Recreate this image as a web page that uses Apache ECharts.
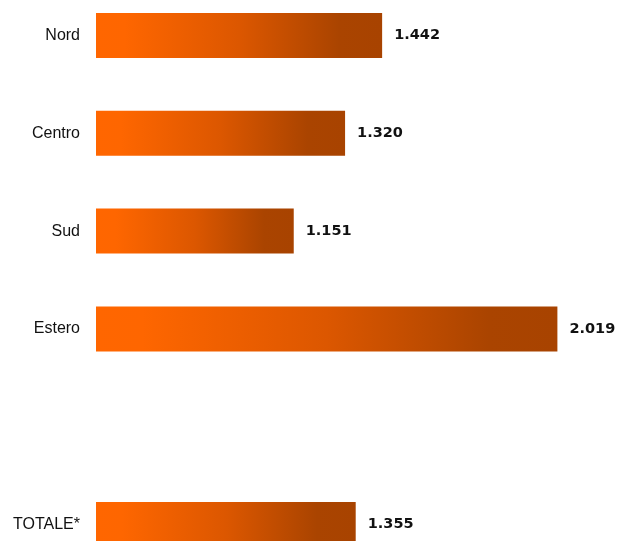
<!DOCTYPE html>
<html><head><meta charset="utf-8">
<script src="https://cdn.jsdelivr.net/npm/echarts@6/dist/echarts.min.js"></script>
<style>html,body{margin:0;padding:0;background:#fff}#c{width:618px;height:541px}</style>
</head><body><div id="c"></div>
<script>
const categories = ['Nord', 'Centro', 'Sud', 'Estero', '', 'TOTALE*'];
const values = [1442, 1320, 1151, 2019, null, 1355];

function fmt(v) {
  return String(v).replace(/\B(?=(\d{3})+(?!\d))/g, '.');
}

const chart = echarts.init(document.getElementById('c'));
chart.setOption({
  animation: false,
  grid: { left: 96, top: -13.4, width: 486, height: 586.8, containLabel: false, outerBoundsMode: 'none' },
  xAxis: {
    type: 'value', min: 500, max: 2100, show: false
  },
  yAxis: {
    type: 'category', inverse: true, data: categories,
    axisLine: { show: false }, axisTick: { show: false }, splitLine: { show: false },
    axisLabel: { margin: 16, color: '#111', fontFamily: 'Liberation Sans', fontSize: 16 }
  },
  series: [{
    type: 'bar', data: values, barWidth: 45,
    itemStyle: {
      color: new echarts.graphic.LinearGradient(0, 0, 1, 0, [
        { offset: 0, color: '#ff6600' },
        { offset: 0.1, color: '#fe6600' },
        { offset: 0.5, color: '#dc5700' },
        { offset: 0.85, color: '#aa4400' },
        { offset: 1, color: '#a84300' }
      ])
    },
    label: {
      show: true, position: 'right', distance: 12,
      color: '#111', fontFamily: 'DejaVu Sans', fontWeight: 'bold', fontSize: 14.5,
      formatter: p => fmt(p.value)
    }
  }]
});
</script></body></html>
